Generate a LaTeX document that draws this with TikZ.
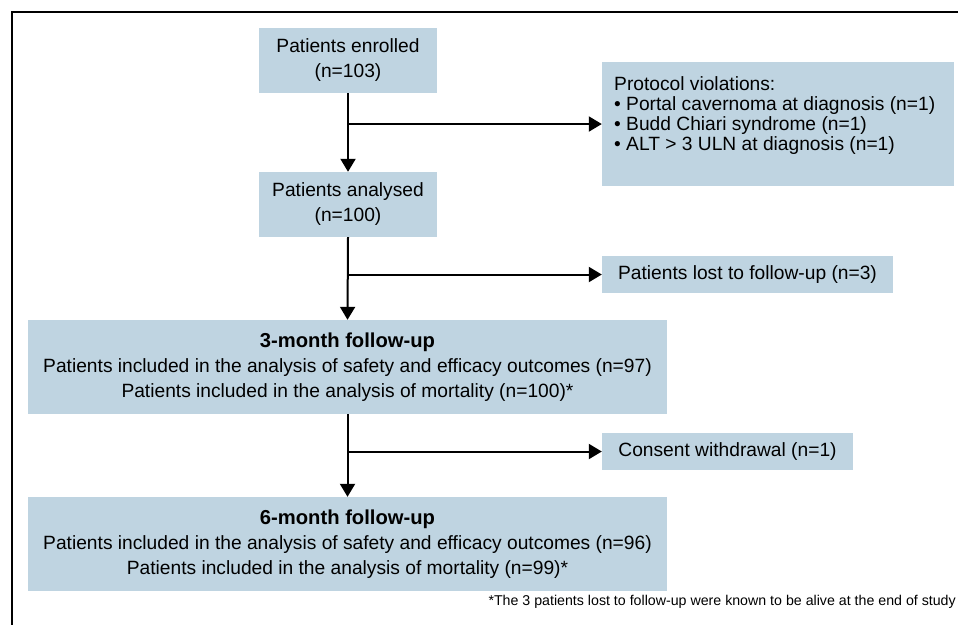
\documentclass[tikz,border=0pt]{standalone}
\usepackage{fontspec}
\setmainfont{Liberation Sans}
\usetikzlibrary{arrows.meta}
\definecolor{boxblue}{RGB}{191,212,225}
\newcommand{\boxhead}[1]{{\fontsize{20.2}{25}\selectfont\textbf{#1}}}
\begin{document}
\begin{tikzpicture}[x=1pt,y=-1pt,
  box/.style={fill=boxblue, draw=none, inner sep=0pt, font=\fontsize{19.2}{25}\selectfont, align=center},
  conn/.style={line width=2pt, -{Triangle[width=15pt,length=13pt]}},
  frame/.style={line width=2.2pt}
  ]
\useasboundingbox (0,0) rectangle (958,624);
\coordinate (fbl) at (12,630);
\coordinate (ftl) at (12,12);
\coordinate (ftr) at (964,12);
\draw[frame] (fbl) -- (ftl) -- (ftr);

\node[box, minimum width=178pt, minimum height=65pt] (enr) at (348,60.5) {Patients enrolled\\(n=103)};
\node[box, minimum width=178pt, minimum height=65pt] (ana) at (348,204.5) {Patients analysed\\(n=100)};
\node[box, minimum width=352pt, minimum height=124pt] (pv) at (778,124) {};
\node[anchor=west, align=left, inner sep=0pt, font=\fontsize{19.2}{20.2}\selectfont] (pvtext) at (614,115.5)
  {Protocol violations:\\
   • Portal cavernoma at diagnosis (n=1)\\
   • Budd Chiari syndrome (n=1)\\
   • ALT > 3 ULN at diagnosis (n=1)};
\node[box, minimum width=291pt, minimum height=37pt] (lost) at (747.5,274.5) {Patients lost to follow-up (n=3)};
\node[box, minimum width=639pt, minimum height=94pt] (m3) at (347.5,367)
  {\boxhead{3-month follow-up}\\
   Patients included in the analysis of safety and efficacy outcomes (n=97)\\
   Patients included in the analysis of mortality (n=100)*};
\node[box, minimum width=251pt, minimum height=37pt] (cw) at (727.5,451.5) {Consent withdrawal (n=1)};
\node[box, minimum width=639pt, minimum height=94pt] (m6) at (347.5,544)
  {\boxhead{6-month follow-up}\\
   Patients included in the analysis of safety and efficacy outcomes (n=96)\\
   Patients included in the analysis of mortality (n=99)*};
\node[anchor=base east, inner sep=0pt, font=\fontsize{14.2}{17}\selectfont] (fn) at (956,605)
  {*The 3 patients lost to follow-up were known to be alive at the end of study};

\draw[conn] (enr.south) -- (ana.north);
\draw[conn] (enr.south |- pv.west) -- (pv.west);
\draw[conn] (ana.south) -- (m3.north);
\draw[conn] (ana.south |- lost.west) -- (lost.west);
\draw[conn] (m3.south) -- (m6.north);
\draw[conn] (m3.south |- cw.west) -- (cw.west);
\end{tikzpicture}
\end{document}
